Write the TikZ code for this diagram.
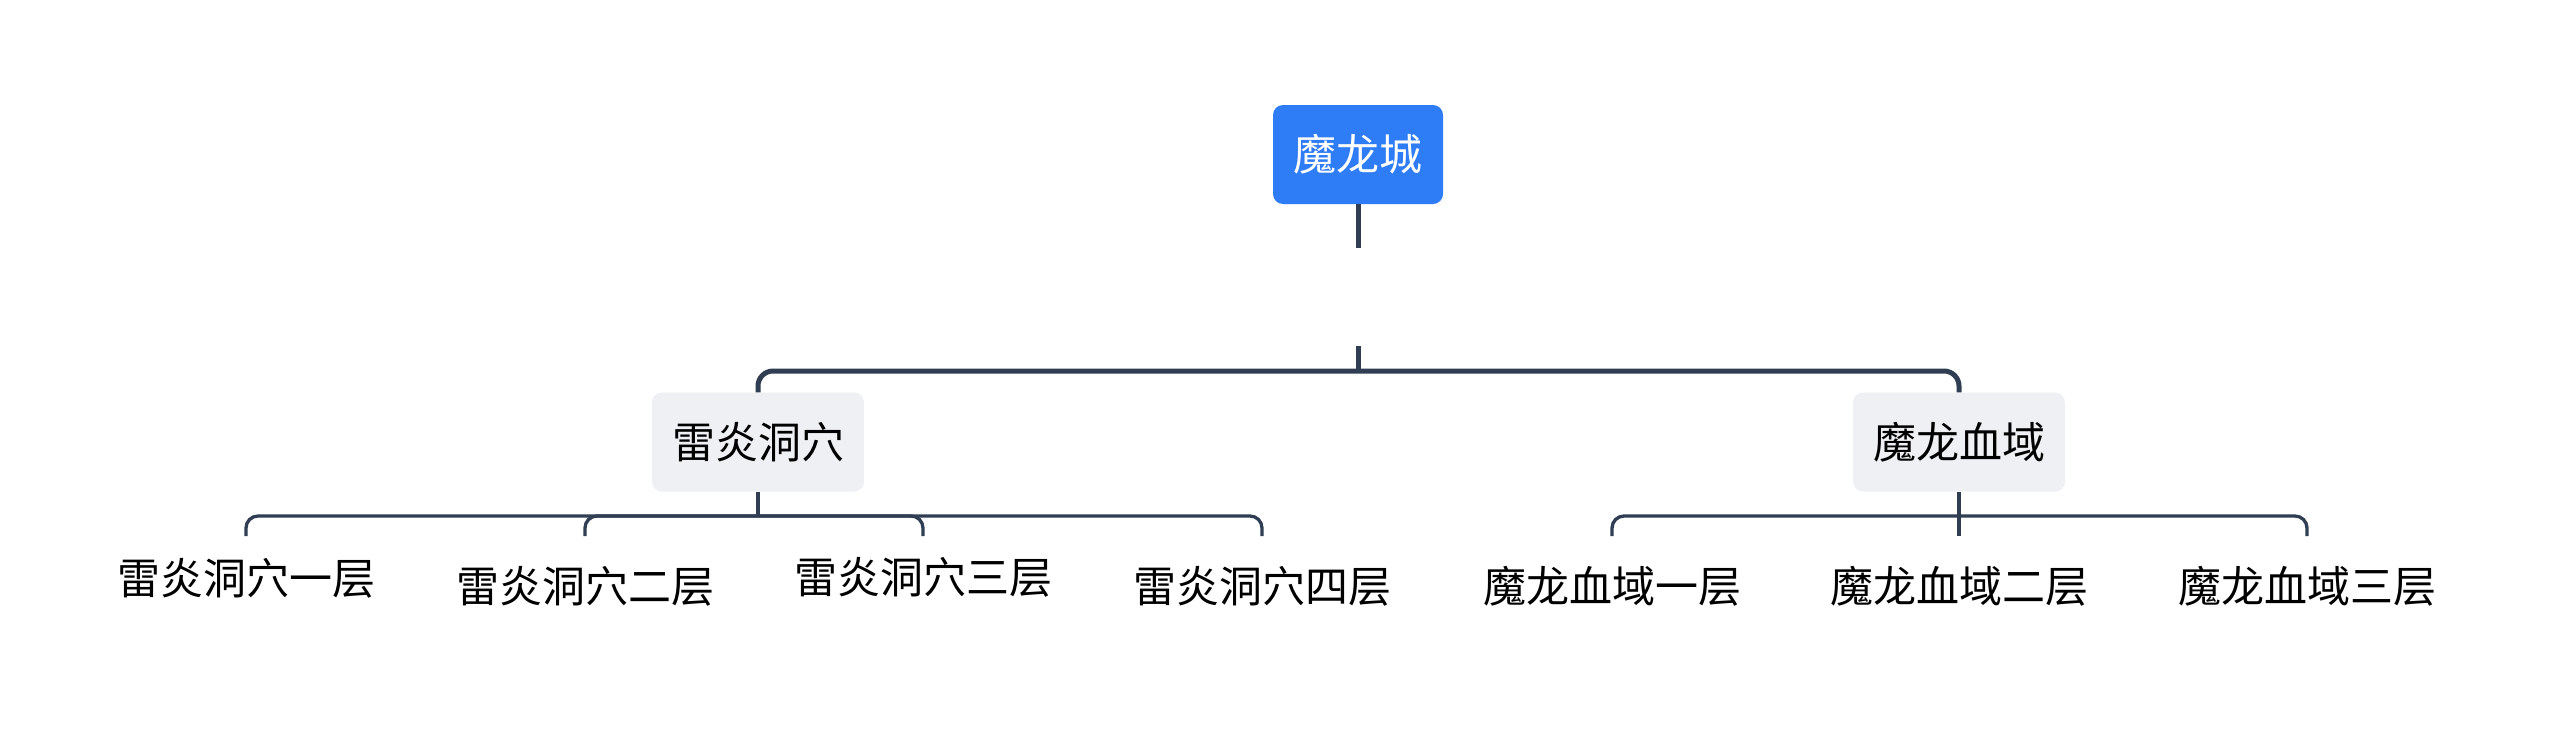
\documentclass[tikz,border=0pt]{standalone}
\usepackage{fontspec}
\newfontfamily\cjk{Noto Sans CJK SC}
\definecolor{rootblue}{HTML}{2E7CF6}
\definecolor{topicgrey}{HTML}{EEF0F3}
\definecolor{linecol}{HTML}{2F3E52}
\begin{document}
\begin{tikzpicture}[x=1pt,y=-1pt,
  every node/.style={font=\cjk\fontsize{43pt}{52pt}\selectfont, inner sep=0pt},
  rootbox/.style={fill=rootblue, text=white, rounded corners=10pt, minimum width=170pt, minimum height=99pt},
  topicbox/.style={fill=topicgrey, text=black, rounded corners=10pt, minimum width=212pt, minimum height=99pt},
  leaf/.style={text=black},
  linkone/.style={draw=linecol, line width=5pt},
  linktwo/.style={draw=linecol, line width=3.3pt},
]
\useasboundingbox (0,0) rectangle (2560,742);
\fill[white] (0,0) rectangle (2560,742);
\node[rootbox] (root) at (1358,154.5) {魔龙城};
\node[topicbox] (A) at (758,442) {雷炎洞穴};
\node[topicbox] (B) at (1959,442) {魔龙血域};
\node[leaf] (a1) at (246,578) {雷炎洞穴一层};
\node[leaf] (a2) at (585,586) {雷炎洞穴二层};
\node[leaf] (a3) at (923,577) {雷炎洞穴三层};
\node[leaf] (a4) at (1262,586) {雷炎洞穴四层};
\node[leaf] (b1) at (1612,586) {魔龙血域一层};
\node[leaf] (b2) at (1959,586) {魔龙血域二层};
\node[leaf] (b3) at (2307,586) {魔龙血域三层};
\coordinate (j0) at (1358,371);
\coordinate (g) at (1358,346);
\coordinate (bar) at (0,536);
\coordinate (jA) at (758,516);
\coordinate (jB) at (1959,516);
\draw[linkone] (root.south) -- ++(0,44);
\draw[linkone] (g) -- (j0);
\draw[linkone, rounded corners=15pt] (j0) -| (A.north);
\draw[linkone, rounded corners=15pt] (j0) -| (B.north);
\draw[linktwo] (A.south) -- (jA);
\foreach \c in {a1,a2,a3,a4}{
  \draw[linktwo, rounded corners=12pt] (jA) -| (\c.north |- bar);
}
\draw[linktwo] (B.south) -- (b2.north |- bar);
\foreach \c in {b1,b3}{
  \draw[linktwo, rounded corners=12pt] (jB) -| (\c.north |- bar);
}
\end{tikzpicture}
\end{document}
